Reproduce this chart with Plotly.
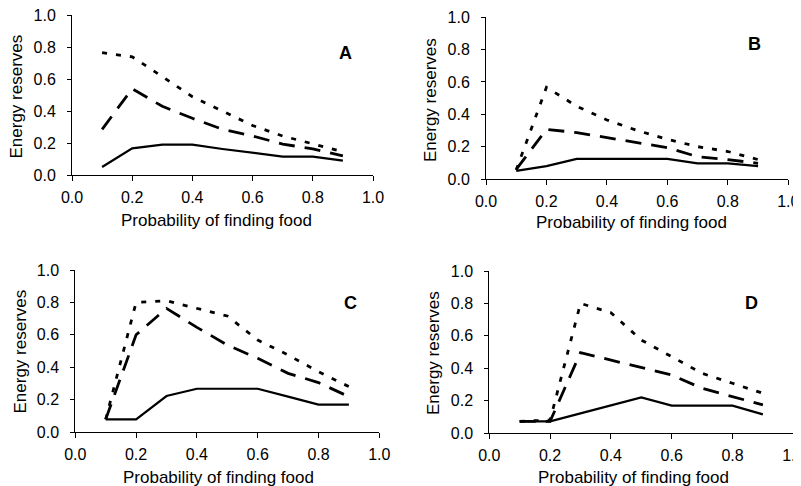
import plotly.graph_objects as go

# ---- data ----
prob = [0.1, 0.2, 0.3, 0.4, 0.5, 0.6, 0.7, 0.8, 0.9]

a_solid = [0.05, 0.167, 0.19, 0.19, 0.163, 0.14, 0.115, 0.115, 0.09]
a_dash = [0.286, 0.54, 0.43, 0.355, 0.286, 0.244, 0.194, 0.163, 0.12]
a_dot = [0.766, 0.74, 0.616, 0.49, 0.40, 0.31, 0.244, 0.194, 0.146]

b_solid = [0.05, 0.08, 0.124, 0.124, 0.124, 0.124, 0.097, 0.097, 0.08]
b_dash = [0.06, 0.307, 0.287, 0.256, 0.227, 0.194, 0.138, 0.12, 0.097]
b_dot = [0.056, 0.567, 0.45, 0.365, 0.30, 0.245, 0.20, 0.17, 0.12]

c_solid = [0.078, 0.078, 0.222, 0.267, 0.267, 0.267, 0.218, 0.169, 0.169]
c_dash = [0.078, 0.60, 0.763, 0.646, 0.537, 0.455, 0.362, 0.305, 0.218]
c_dot = [0.078, 0.80, 0.81, 0.763, 0.716, 0.568, 0.475, 0.372, 0.28]

d_solid = [0.072, 0.072, 0.121, 0.169, 0.22, 0.169, 0.169, 0.169, 0.115]
d_dash = [0.072, 0.072, 0.496, 0.45, 0.405, 0.358, 0.276, 0.224, 0.173]
d_dot = [0.072, 0.08, 0.80, 0.743, 0.574, 0.47, 0.368, 0.307, 0.245]

panel_letters = ["A", "B", "C", "D"]
x_title = "Probability of finding food"
y_title = "Energy reserves"
tick_vals = [0.0, 0.2, 0.4, 0.6, 0.8, 1.0]
tick_text = ["0.0", "0.2", "0.4", "0.6", "0.8", "1.0"]

panels = [
    (a_solid, a_dash, a_dot),
    (b_solid, b_dash, b_dot),
    (c_solid, c_dash, c_dot),
    (d_solid, d_dash, d_dot),
]

W, H = 801, 486
OFF = 8  # page body margin: figure starts 8px from the window edge
# panel pixel boxes in window coordinates: (x_left, x_right, y_top, y_bottom)
boxes = [
    (72, 373, 15.3, 175),
    (486, 788.3, 17.3, 179),
    (75.3, 379.3, 270, 432),
    (489.3, 793.3, 271, 433),
]
letter_pos = [(345, 53), (754.5, 44), (350, 302.5), (751, 302.5)]
xtitle_pos = [(216, 220), (631.5, 222.5), (219, 477), (633, 477)]
ytitle_pos = [(16, 96.5), (430, 100), (20, 351.5), (433.5, 353.5)]


def px(x):
    return (x - OFF) / W


def py(y):
    return 1 - (y - OFF) / H


FONT = "Liberation Sans, Arial, sans-serif"

fig = go.Figure()
layout = dict(
    width=W, height=H,
    margin=dict(l=0, r=0, t=0, b=0, pad=0, autoexpand=False),
    paper_bgcolor="white", plot_bgcolor="white",
    showlegend=False,
    font=dict(family=FONT, color="black", size=16),
)
annotations = []

styles = [
    dict(color="black", width=2.2, dash="solid"),
    dict(color="black", width=2.8, dash="16px,10px"),
    dict(color="black", width=2.8, dash="5px,9px"),
]

for i, (series, box) in enumerate(zip(panels, boxes)):
    n = "" if i == 0 else str(i + 1)
    xa = "x" + n
    ya = "y" + n
    for vals, st in zip(series, styles):
        fig.add_trace(go.Scatter(x=prob, y=vals, mode="lines", line=st,
                                 xaxis=xa, yaxis=ya, hoverinfo="skip"))
    xl, xr, yt, yb = box
    layout["xaxis" + n] = dict(
        domain=[px(xl), px(xr)], range=[0, 1], anchor=ya, automargin=False,
        showline=True, linecolor="black", linewidth=1,
        ticks="outside", ticklen=5, tickwidth=1, tickcolor="black",
        tickvals=tick_vals, ticktext=tick_text,
        showgrid=False, zeroline=False, ticklabelstandoff=3,
        ticklabeloverflow="allow",
        tickfont=dict(family=FONT, size=16, color="black"),
    )
    layout["yaxis" + n] = dict(
        domain=[py(yb), py(yt)], range=[0, 1], anchor=xa, automargin=False,
        showline=True, linecolor="black", linewidth=1,
        ticks="outside", ticklen=4, tickwidth=1, tickcolor="black",
        tickvals=tick_vals, ticktext=tick_text,
        showgrid=False, zeroline=False, ticklabelstandoff=8,
        ticklabeloverflow="allow",
        tickfont=dict(family=FONT, size=16, color="black"),
    )
    lx, ly = letter_pos[i]
    annotations.append(dict(text="<b>%s</b>" % panel_letters[i], x=px(lx), y=py(ly),
                            xref="paper", yref="paper", showarrow=False,
                            xanchor="center", yanchor="middle",
                            font=dict(family=FONT, size=18, color="black")))
    tx, ty = xtitle_pos[i]
    annotations.append(dict(text=x_title, x=px(tx), y=py(ty),
                            xref="paper", yref="paper", showarrow=False,
                            xanchor="center", yanchor="middle",
                            font=dict(family=FONT, size=17, color="black")))
    yx, yy = ytitle_pos[i]
    annotations.append(dict(text=y_title, x=px(yx), y=py(yy), textangle=-90,
                            xref="paper", yref="paper", showarrow=False,
                            xanchor="center", yanchor="middle",
                            font=dict(family=FONT, size=17, color="black")))

layout["annotations"] = annotations
fig.update_layout(**layout)
fig.write_html("out.html")
